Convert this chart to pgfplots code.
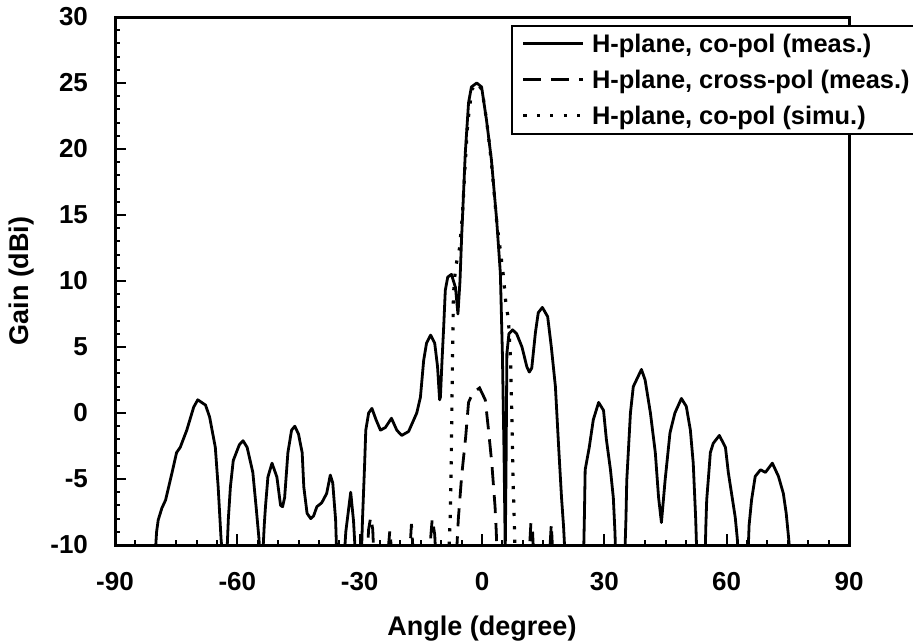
\documentclass[border=0pt]{standalone}
\usepackage{pgfplots}
\pgfplotsset{compat=1.18}
\usepackage{fontspec}
\setmainfont{Liberation Sans}
\begin{document}
\begin{tikzpicture}
\begin{axis}[
  at={(0pt,0pt)}, anchor=south west,
  scale only axis, width=367pt, height=264pt,
  xmin=-90, xmax=90, ymin=-10, ymax=30,
  xtick={-90,-60,...,90}, ytick={-10,-5,...,30},
  minor x tick num=5, minor y tick num=4,
  tick pos=left, tick align=inside,
  major tick length=5.3pt, minor tick length=2.6pt,
  tick style={line width=1pt, black},
  axis line style={line width=1.5pt},
  /pgf/number format/assume math mode=true,
  ticklabel style={font=\bfseries\fontsize{13}{15}\selectfont},
  xticklabel shift=10pt, yticklabel shift=10pt,
  xlabel={Angle (degree)}, ylabel={Gain (dBi)},
  every axis x label/.style={at={(axis description cs:0.5,-0.159)},anchor=center,font=\bfseries\fontsize{13.5}{15}\selectfont},
  every axis y label/.style={at={(axis description cs:-0.1267,0.5)},rotate=90,anchor=center,font=\bfseries\fontsize{13.5}{15}\selectfont},
  legend style={at={(axis description cs:0.5395,0.985)}, anchor=north west, fill=white, draw=black, line width=0.8pt, inner xsep=5pt, inner ysep=0pt, font=\bfseries\fontsize{12.7}{15}\selectfont, column sep=3.5pt, nodes={inner sep=0pt, text height=13.4pt, text depth=4.6pt}},
  legend cell align=left,
  legend image code/.code={\draw[#1] (0pt,0pt) -- (30pt,0pt);},
]
\addplot[black, line width=1.4pt, line join=round] coordinates {
(-90,-11) (-80.2,-11) (-79.8,-9) (-79.4,-8.1) (-78.5,-7.2) (-77.6,-6.6) (-76.0,-4.5) (-74.9,-3.0) (-74.0,-2.6) (-72.4,-1.3) (-70.7,0.45) (-69.7,1.0) (-67.8,0.6) (-66.8,-0.3) (-65.4,-2.6) (-64.7,-5.6) (-64.0,-9.5) (-63.6,-11)
(-62.6,-11) (-62.2,-8) (-61.7,-5.6) (-61.0,-3.6) (-59.5,-2.4) (-58.6,-2.1) (-57.6,-2.6) (-56.2,-4.5) (-55.4,-7.1) (-54.7,-9.5) (-54.4,-11)
(-53.8,-11) (-53.4,-8.5) (-53.1,-7.1) (-52.5,-4.85) (-51.5,-3.8) (-50.3,-4.85) (-49.4,-7.0) (-48.9,-7.1) (-48.4,-6.4) (-47.6,-3.0) (-46.7,-1.3) (-45.9,-1.0) (-45.0,-1.6) (-44.1,-3.0) (-43.7,-5.6) (-42.9,-7.6) (-42.0,-8.0) (-41.3,-7.8) (-40.5,-7.1) (-39.3,-6.8) (-38.1,-6.1) (-37.2,-4.7) (-36.6,-5.3) (-35.9,-8.1) (-35.6,-11)
(-33.8,-11) (-33.4,-9) (-32.2,-6.0) (-31.5,-8.2) (-31.0,-11)
(-29.6,-11) (-29.3,-8) (-28.8,-4) (-28.5,-1.3) (-27.8,0.0) (-27.0,0.35) (-26.0,-0.5) (-24.9,-1.3) (-23.7,-1.1) (-22.2,-0.4) (-20.9,-1.3) (-19.7,-1.7) (-18.0,-1.4) (-16.0,0.0) (-15.1,1.2) (-14.3,4.0) (-13.6,5.3) (-12.6,5.9) (-11.6,5.3) (-10.9,3.5) (-10.4,1.0) (-10.2,1.2) (-9.8,4) (-9.4,6.5) (-9.0,9.3) (-8.4,10.3) (-7.5,10.5) (-6.5,9.5) (-5.9,7.5) (-5.4,10) (-5.0,13.3) (-4.1,19.7) (-3.3,23.5) (-2.6,24.7) (-1.3,25.0) (-0.1,24.7) (1.1,22.2) (2.3,19.2) (3.6,14.6) (4.5,10.6) (5.0,4.5) (5.4,-3) (5.7,-10.5) (5.9,-4) (6.1,4.5) (6.6,6.0) (7.5,6.3) (8.5,6.0) (9.8,5.0) (11.0,3.5) (11.6,3.1) (12.2,3.4) (13.1,6.1) (13.8,7.6) (14.8,8.0) (16.1,7.3) (17.0,5.0) (18.0,2.0) (18.8,-2.6) (19.5,-6.4) (20.0,-8.6) (20.4,-11)
(24.9,-11) (25.1,-8) (25.3,-4.3) (26.3,-2.6) (27.3,-0.5) (28.6,0.8) (29.8,0.2) (30.5,-2.0) (31.5,-4.3) (32.2,-6.4) (32.6,-9) (32.8,-11)
(35.0,-11) (35.3,-8) (35.5,-5.1) (36.4,0) (37.1,2.0) (39.1,3.3) (40.0,2.5) (41.3,0) (42.5,-3.0) (43.3,-6.4) (44.0,-8.3) (44.9,-5.1) (46.1,-1.5) (47.3,0) (48.9,1.1) (50.1,0.5) (51.1,-1.3) (51.8,-3.8) (52.4,-8) (52.7,-11)
(54.7,-11) (54.9,-8.5) (55.1,-6.6) (56.0,-3.0) (56.7,-2.3) (58.2,-1.7) (59.7,-2.6) (60.4,-4.5) (61.2,-6.1) (62.1,-7.9) (62.6,-9.5) (62.9,-11)
(65.2,-11) (65.5,-8.5) (66.1,-6.6) (67.0,-4.8) (68.3,-4.3) (69.5,-4.5) (71.2,-3.8) (72.7,-4.8) (73.9,-6.1) (74.6,-7.6) (75.2,-9.5) (75.6,-11) (90,-11)
};
\addlegendentry{H-plane, co-pol (meas.)}
\addplot[black, line width=1.4pt, dash pattern=on 9pt off 5pt] coordinates {
(-30,-11) (-28.2,-11) (-27.8,-8.8) (-27.3,-7.9) (-26.8,-8.8) (-26.5,-11) (-23.2,-11) (-22.6,-8.9) (-22.0,-11) (-17.8,-11) (-17.3,-8.4) (-16.8,-11) (-13.0,-11) (-12.2,-8.0) (-11.6,-9.2) (-11.3,-11) (-6.3,-11) (-5.8,-8) (-5.0,-4.8) (-4.0,-1.8) (-3.3,0.8) (-2.3,1.5) (-0.6,1.9) (0.8,1.0) (1.6,-1.3) (2.4,-3.8) (3.2,-7.1) (3.5,-9) (3.7,-11) (11.5,-11) (12.0,-8.3) (12.4,-9.0) (12.7,-11) (16.5,-11) (17.0,-8.4) (17.4,-11) (20,-11)
};
\addlegendentry{H-plane, cross-pol (meas.)}
\addplot[black, line width=1.6pt, dash pattern=on 1.6pt off 5.1pt] coordinates {
(-8.2,-11) (-7.8,-8) (-7.6,-5) (-7.4,0) (-7.2,5) (-7.0,9) (-6.5,11) (-5.5,12.5) (-4.8,15) (-4.2,18.5) (-3.5,22) (-2.5,24.5) (-1.3,25) (0,24.5) (1.2,22) (2.3,19) (3.6,14.5) (4.5,12.3) (5.2,10.5) (5.8,8.5) (6.5,7) (7.0,4) (7.3,0) (7.6,-5) (7.9,-8) (8.1,-11)
};
\addlegendentry{H-plane, co-pol (simu.)}
\coordinate (LL) at (rel axis cs:0,0);
\end{axis}
\pgfresetboundingbox
\path ([shift={(-57.5pt,-48.5pt)}]LL) rectangle ([shift={(399pt,272.5pt)}]LL);
\end{tikzpicture}
\end{document}
